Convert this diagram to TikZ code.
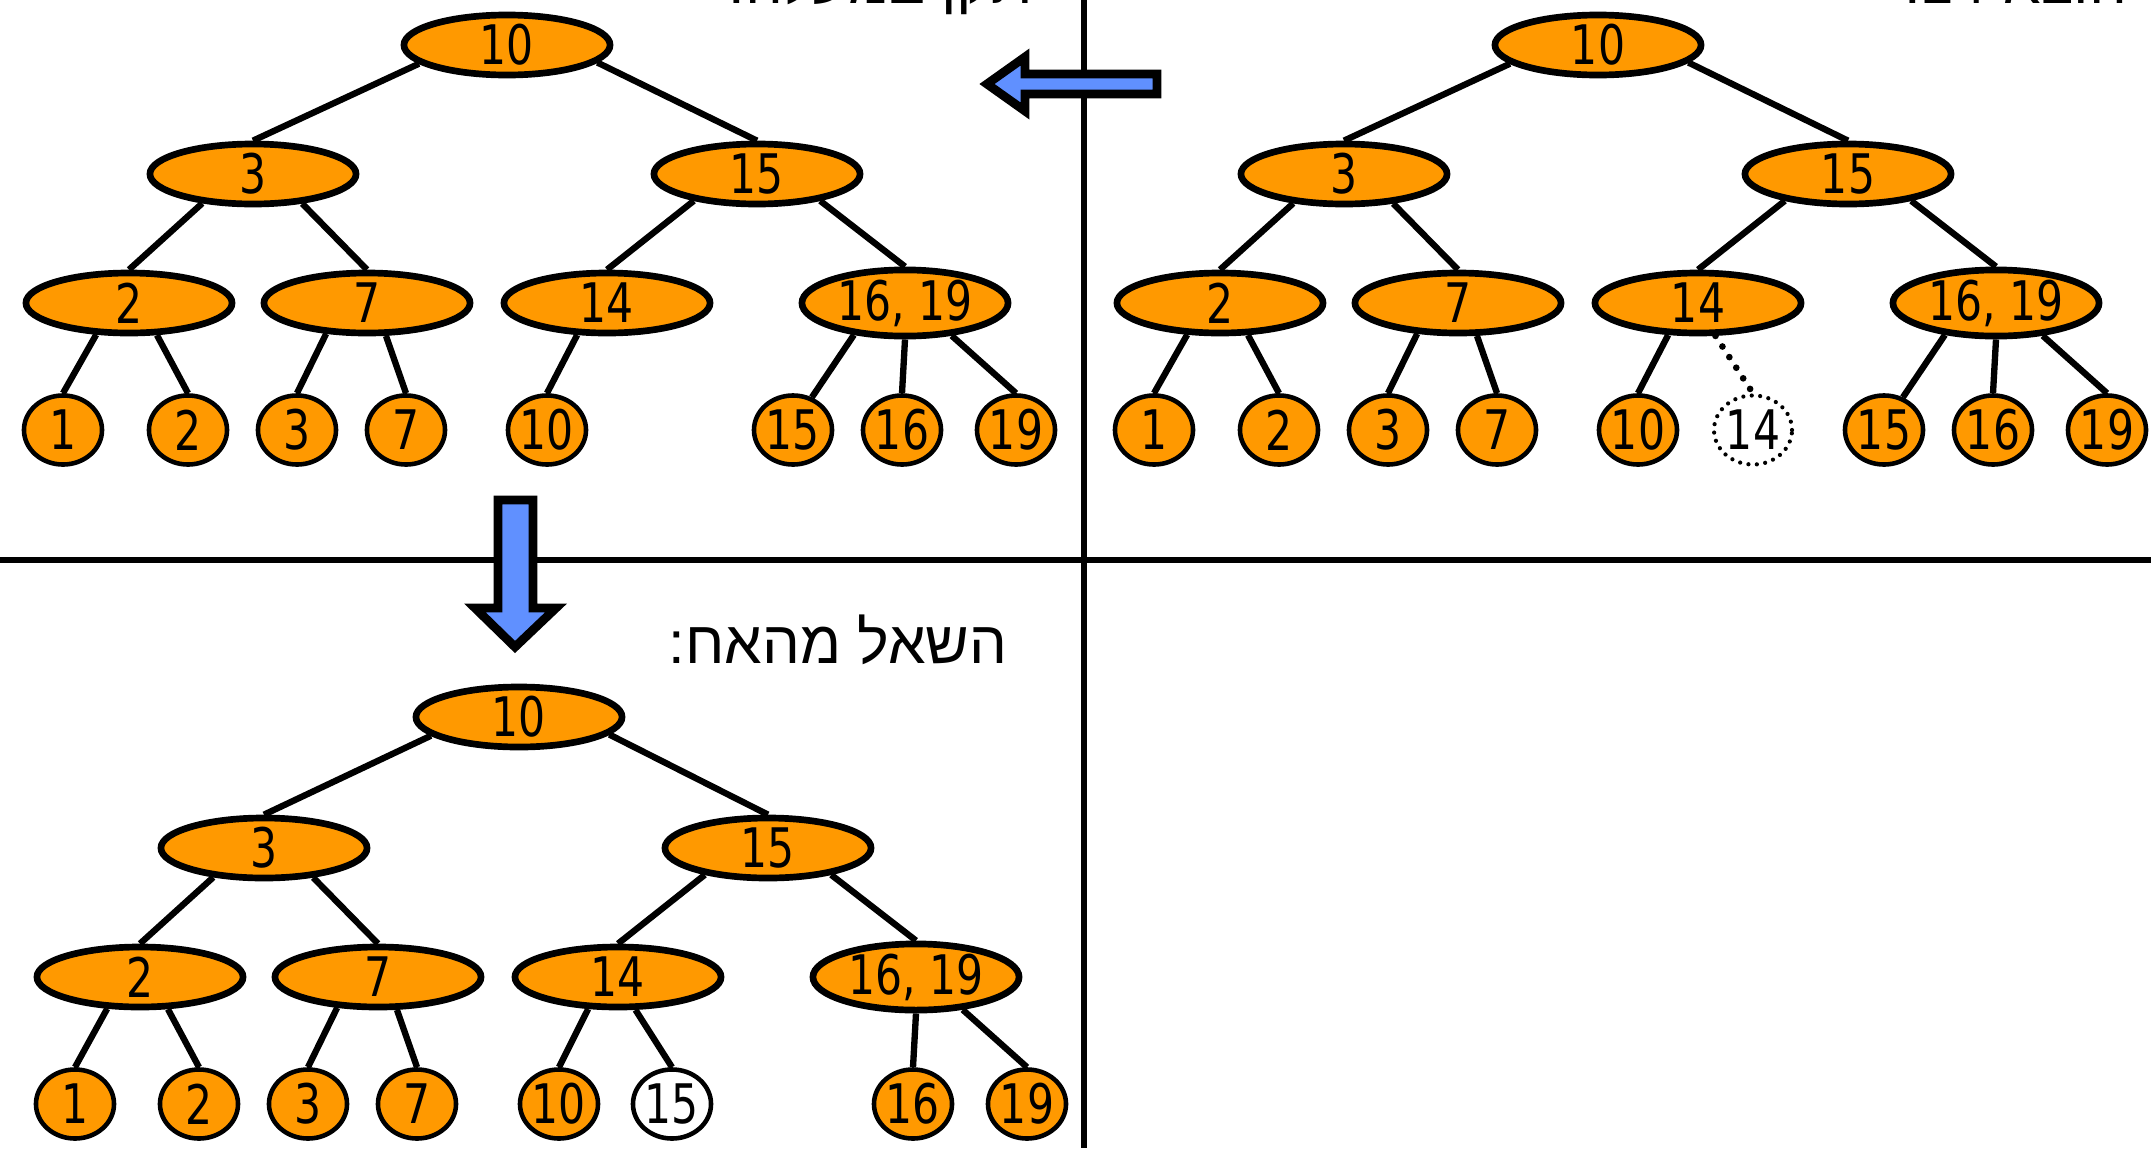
\documentclass[tikz,border=0pt]{standalone}
\usepackage{fontspec}
\setmainfont{DejaVu Sans}[FakeStretch=0.78]
\newfontfamily\hebfont[Script=Hebrew]{Liberation Sans}
\TeXXeTstate=1
\usetikzlibrary{shapes.geometric}
\definecolor{keyorange}{RGB}{255,153,0}
\definecolor{arrowblue}{RGB}{96,144,255}

\begin{document}
\begin{tikzpicture}
[x=0.01cm, y=-0.01cm,
inner/.style={ellipse, draw, line width=1.9pt, fill=keyorange,
minimum width=2.06cm, minimum height=0.60cm, inner sep=0pt,
font=\fontsize{15.5}{18}\selectfont},
leaf/.style={ellipse, draw, line width=1.3pt, fill=keyorange,
minimum width=0.78cm, minimum height=0.69cm, inner sep=0pt,
font=\fontsize{15.5}{18}\selectfont},
gone/.style={leaf, fill=white, line width=1.2pt, line cap=round,
dash pattern=on 0pt off 2.4pt},
newleaf/.style={leaf, fill=white},
edge/.style={draw, line width=1.8pt},
dotedge/.style={line width=1.9pt, line cap=round,
dash pattern=on 0pt off 3.6pt},
bigarrow/.style={draw, line width=2.5pt, fill=arrowblue, line join=miter},
divider/.style={draw, line width=1.7pt},
title/.style={font=\hebfont\fontsize{17}{20}\selectfont,
anchor=base east, inner sep=0pt}]
\useasboundingbox (0,0) rectangle (2151,1148);

% dividers
\path [divider] (1084,0) -- (1084,1148);
\path [divider] (0,560) -- (2151,560);

% titles
\node [title] (rtitle) at (2128,3) {\beginR הוצא \beginL14\endL:\endR};
\node [title] (ltitle) at (1033,3) {\beginR תקן במעלה:\endR};
\node [title] (btitle) at (1008,663) {\beginR השאל מהאח:\endR};

% right tree
\node [inner] (r10) at (1598,45) {10};
\node [inner] (r3) at (1344,174) {3};
\node [inner] (r15) at (1848,174) {15};
\node [inner] (r2) at (1220,303) {2};
\node [inner] (r7) at (1458,303) {7};
\node [inner] (r14) at (1698,303) {14};
\node [inner] (r1619) at (1996,303) {16, 19};
\node [leaf] (r1l) at (1154,430) {1};
\node [leaf] (r2l) at (1279,430) {2};
\node [leaf] (r3l) at (1388,430) {3};
\node [leaf] (r7l) at (1497,430) {7};
\node [leaf] (r10l) at (1638,430) {10};
\node [gone] (r14l) at (1753,430) {14};
\node [leaf] (r15l) at (1884,430) {15};
\node [leaf] (r16l) at (1993,430) {16};
\node [leaf] (r19l) at (2107,430) {19};

% left tree
\node [inner] (l10) at (507,45) {10};
\node [inner] (l3) at (253,174) {3};
\node [inner] (l15) at (757,174) {15};
\node [inner] (l2) at (129,303) {2};
\node [inner] (l7) at (367,303) {7};
\node [inner] (l14) at (607,303) {14};
\node [inner] (l1619) at (905,303) {16, 19};
\node [leaf] (l1l) at (63,430) {1};
\node [leaf] (l2l) at (188,430) {2};
\node [leaf] (l3l) at (297,430) {3};
\node [leaf] (l7l) at (406,430) {7};
\node [leaf] (l10l) at (547,430) {10};
\node [leaf] (l15l) at (793,430) {15};
\node [leaf] (l16l) at (902,430) {16};
\node [leaf] (l19l) at (1016,430) {19};

% bottom tree
\node [inner] (b10) at (519,717) {10};
\node [inner] (b3) at (264,848) {3};
\node [inner] (b15) at (768,848) {15};
\node [inner] (b2) at (140,977) {2};
\node [inner] (b7) at (378,977) {7};
\node [inner] (b14) at (618,977) {14};
\node [inner] (b1619) at (916,977) {16, 19};
\node [leaf] (b1l) at (75,1104) {1};
\node [leaf] (b2l) at (199,1104) {2};
\node [leaf] (b3l) at (308,1104) {3};
\node [leaf] (b7l) at (417,1104) {7};
\node [leaf] (b10l) at (559,1104) {10};
\node [newleaf] (b15l) at (672,1104) {15};
\node [leaf] (b16l) at (913,1104) {16};
\node [leaf] (b19l) at (1027,1104) {19};

\begin{scope}[every path/.style=edge]
\path (r10.192) -- (r3.north);
\path (r10.349) -- (r15.north);
\path (r3.210) -- (r2.north);
\path (r3.329) -- (r7.north);
\path (r15.203) -- (r14.north);
\path (r15.337) -- (r1619.north);
\path (r2.224) -- (r1l.north);
\path (r2.311) -- (r2l.north);
\path (r7.217) -- (r3l.north);
\path (r7.300) -- (r7l.north);
\path (r14.227) -- (r10l.north);
\path [dotedge] (r14.298) -- (r14l.north);
\path (r1619.212) -- (r15l.60);
\path (r1619.270) -- (r16l.north);
\path (r1619.325) -- (r19l.north);
%
\path (l10.192) -- (l3.north);
\path (l10.349) -- (l15.north);
\path (l3.210) -- (l2.north);
\path (l3.329) -- (l7.north);
\path (l15.203) -- (l14.north);
\path (l15.337) -- (l1619.north);
\path (l2.224) -- (l1l.north);
\path (l2.311) -- (l2l.north);
\path (l7.217) -- (l3l.north);
\path (l7.300) -- (l7l.north);
\path (l14.227) -- (l10l.north);
\path (l1619.212) -- (l15l.60);
\path (l1619.270) -- (l16l.north);
\path (l1619.325) -- (l19l.north);
%
\path (b10.192) -- (b3.north);
\path (b10.349) -- (b15.north);
\path (b3.210) -- (b2.north);
\path (b3.329) -- (b7.north);
\path (b15.203) -- (b14.north);
\path (b15.337) -- (b1619.north);
\path (b2.224) -- (b1l.north);
\path (b2.311) -- (b2l.north);
\path (b7.217) -- (b3l.north);
\path (b7.300) -- (b7l.north);
\path (b14.227) -- (b10l.north);
\path (b14.298) -- (b15l.north);
\path (b1619.270) -- (b16l.north);
\path (b1619.325) -- (b19l.north);
\end{scope}

% block arrows
\path [bigarrow] (1157,74) -- (1025,74) -- (1025,57) -- (987,84)
  -- (1025,111) -- (1025,94) -- (1157,94) -- cycle;
\path [bigarrow] (498,500) -- (533,500) -- (533,608) -- (556,608)
  -- (515,647) -- (475,608) -- (498,608) -- cycle;
\end{tikzpicture}
\end{document}
